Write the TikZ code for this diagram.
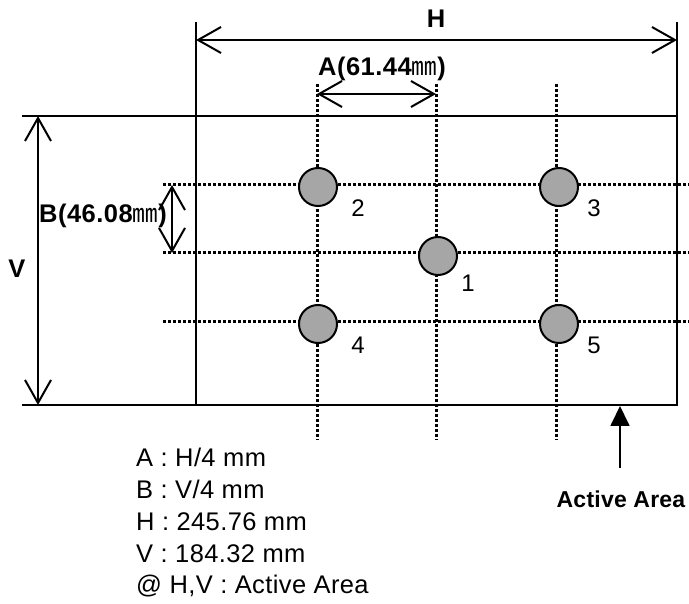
\documentclass[tikz,border=0pt]{standalone}
\usepackage{fontspec}
\setmainfont{Liberation Sans}
\newfontfamily\cjk{Noto Sans CJK SC}
\newfontfamily\spacedA[LetterSpace=1.5]{Liberation Sans}
\newfontfamily\spacedB[LetterSpace=2]{Liberation Sans}
\newfontfamily\spacedC[LetterSpace=1]{Liberation Sans}
\usetikzlibrary{arrows.meta}
\definecolor{spotgray}{HTML}{A6A6A6}
\begin{document}
\begin{tikzpicture}[x=1pt,y=-1pt,
  bline/.style={line width=2pt},
  dimarrow/.style={line width=2pt,{Straight Barb[length=23pt,width=26pt]}-{Straight Barb[length=23pt,width=26pt]}},
  dotline/.style={line width=3pt,dash pattern=on 3pt off 2pt},
  spot/.style={circle,draw,line width=2pt,fill=spotgray,minimum size=38pt,inner sep=0pt},
  num/.style={font=\fontsize{24}{24}\selectfont,inner sep=0pt},
  lbl/.style={font=\spacedB\bfseries\fontsize{25.5}{25.5}\selectfont,inner sep=0pt},
  note/.style={font=\spacedA\fontsize{25.5}{25.5}\selectfont,inner sep=0pt,anchor=base west}]
\useasboundingbox (0,0) rectangle (689,604);
% active area frame
\coordinate (TL) at (196,116);
\coordinate (TR) at (677,116);
\coordinate (BR) at (677,405);
\coordinate (BL) at (196,405);
\coordinate (topext) at (22,116);
\coordinate (botext) at (22,405);
\coordinate (hl) at (196,22);
\coordinate (hr) at (677,22);
% dotted grid
\coordinate (c1t) at (317,84); \coordinate (c1b) at (317,440);
\coordinate (c2t) at (436,84); \coordinate (c2b) at (436,440);
\coordinate (c3t) at (556,84); \coordinate (c3b) at (556,440);
\coordinate (r1l) at (163,185); \coordinate (r1r) at (692,185);
\coordinate (r2l) at (163,253); \coordinate (r2r) at (692,253);
\coordinate (r3l) at (163,322); \coordinate (r3r) at (692,322);
\draw[dotline] (c1t) -- (c1b);
\draw[dotline] (c2t) -- (c2b);
\draw[dotline] (c3t) -- (c3b);
\draw[dotline] (r1l) -- (r1r);
\draw[dotline] (r2l) -- (r2r);
\draw[dotline] (r3l) -- (r3r);
\draw[bline] (TL) -- (TR) -- (BR) -- (BL) -- cycle;
\draw[bline] (topext) -- (TL);
\draw[bline] (botext) -- (BL);
\draw[bline] (hl) -- (TL);
\draw[bline] (hr) -- (TR);
% H dimension
\coordinate (h1) at (196,40);
\coordinate (h2) at (677,40);
\draw[dimarrow] (h1) -- (h2);
\node[lbl] (Hlab) at (436,19) {H};
% V dimension
\coordinate (v1) at (38,116);
\coordinate (v2) at (38,405);
\draw[dimarrow] (v1) -- (v2);
\node[lbl] (Vlab) at (17,269) {V};
% A dimension
\coordinate (a1) at (317,94);
\coordinate (a2) at (436,94);
\draw[dimarrow] (a1) -- (a2);
\node[lbl] (Alab) at (382,69) {A(61.44{\cjk\mdseries ㎜})};
% B dimension
\coordinate (b1) at (172,185);
\coordinate (b2) at (172,253);
\draw[dimarrow] (b1) -- (b2);
\node[lbl] (Blab) at (103,216) {B(46.08{\cjk\mdseries ㎜})};
% spots
\node[spot] (s1) at (438,256) {};
\node[spot] (s2) at (318,187) {};
\node[spot] (s3) at (559,187) {};
\node[spot] (s4) at (318,324) {};
\node[spot] (s5) at (559,324) {};
\node[num] (n1) at (468,283) {1};
\node[num] (n2) at (358,208) {2};
\node[num] (n3) at (594,208) {3};
\node[num] (n4) at (358,345) {4};
\node[num] (n5) at (594,345) {5};
% active area pointer
\node[lbl,font=\spacedC\bfseries\fontsize{23}{23}\selectfont,anchor=base] (aa) at (621,507) {Active Area};
\coordinate (aatail) at (620,468);
\coordinate (aatip) at (620,406);
\draw[line width=1.8pt,-{Triangle[length=20pt,width=19pt]}] (aatail) -- (aatip);
% notes
\node[note] (t1) at (136,467) {A : H/4 mm};
\node[note] (t2) at (136,498) {B : V/4 mm};
\node[note] (t3) at (136,530) {H : 245.76 mm};
\node[note] (t4) at (136,562) {V : 184.32 mm};
\node[note] (t5) at (136,593) {@ H,V : Active Area};
\end{tikzpicture}
\end{document}
